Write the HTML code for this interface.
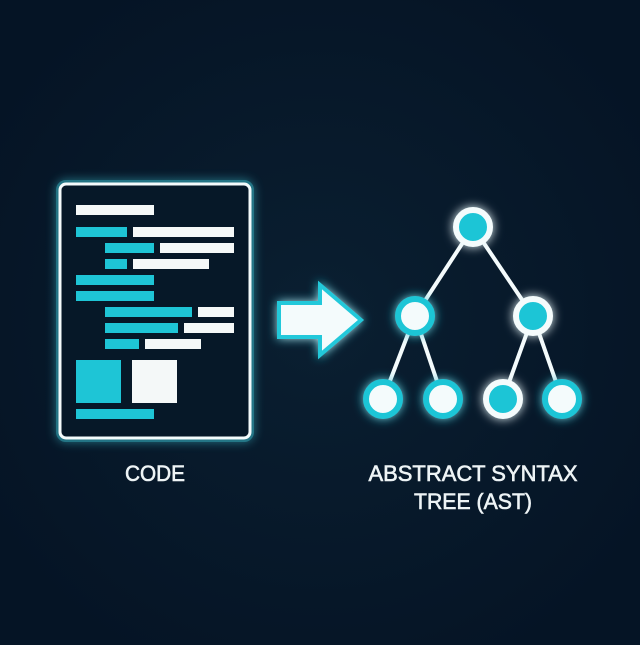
<!DOCTYPE html>
<html><head><style>
body{margin:0;width:640px;height:640px;background:#061628;overflow:hidden;font-family:"Liberation Sans",sans-serif}
</style></head><body>
<svg width="640" height="640" viewBox="0 0 640 640">
<defs>
<filter id="g" x="-30%" y="-30%" width="160%" height="160%"><feGaussianBlur stdDeviation="5" result="b"/><feMerge><feMergeNode in="b"/><feMergeNode in="SourceGraphic"/></feMerge></filter>
<radialGradient id="bg" cx="50%" cy="50%" r="60%"><stop offset="0" stop-color="#0a1f31"/><stop offset="1" stop-color="#051425"/></radialGradient>
</defs>
<rect width="640" height="640" fill="url(#bg)"/>
<rect x="60" y="184" width="190" height="254" rx="6" fill="#061828" stroke="#3fd0e0" stroke-width="8" opacity="0.5" filter="url(#g)"/>
<rect x="60" y="184" width="190" height="254" rx="6" fill="#061828" stroke="#f4fbfc" stroke-width="3"/>
<g fill="#f4f8f8">
<rect x="76" y="205" width="78" height="10"/>
<rect x="133" y="227" width="101" height="10"/>
<rect x="160" y="243" width="74" height="10"/>
<rect x="133" y="259" width="76" height="10"/>
<rect x="198" y="307" width="36" height="10"/>
<rect x="184" y="323" width="50" height="10"/>
<rect x="145" y="339" width="56" height="10"/>
<rect x="132" y="360" width="45" height="43"/>
</g>
<g fill="#1ec5d6">
<rect x="76" y="227" width="51" height="10"/>
<rect x="105" y="243" width="49" height="10"/>
<rect x="105" y="259" width="22" height="10"/>
<rect x="76" y="275" width="78" height="10"/>
<rect x="76" y="291" width="78" height="10"/>
<rect x="105" y="307" width="87" height="10"/>
<rect x="105" y="323" width="73" height="10"/>
<rect x="105" y="339" width="34" height="10"/>
<rect x="76" y="360" width="45" height="43"/>
<rect x="76" y="409" width="78" height="10"/>
</g>
<polygon points="279,303 320,303 320,285 361,320 320,355 320,337 279,337" fill="#f4fbfc" stroke="#22c8da" stroke-width="4" stroke-linejoin="miter" filter="url(#g)"/>
<g stroke="#f4fbfc" stroke-width="4">
<line x1="473" y1="227" x2="415" y2="316"/><line x1="473" y1="227" x2="533" y2="316"/>
<line x1="415" y1="316" x2="383" y2="399"/><line x1="415" y1="316" x2="443" y2="399"/>
<line x1="533" y1="316" x2="503" y2="399"/><line x1="533" y1="316" x2="562" y2="399"/>
</g>
<g stroke-width="6" filter="url(#g)">
<circle cx="473" cy="227" r="17" fill="#1ec5d6" stroke="#f4fbfc"/>
<circle cx="415" cy="316" r="17" fill="#f4fbfc" stroke="#1ec5d6"/>
<circle cx="533" cy="316" r="17" fill="#1ec5d6" stroke="#f4fbfc"/>
<circle cx="383" cy="399" r="17" fill="#f4fbfc" stroke="#1ec5d6"/>
<circle cx="443" cy="399" r="17" fill="#f4fbfc" stroke="#1ec5d6"/>
<circle cx="503" cy="399" r="17" fill="#1ec5d6" stroke="#f4fbfc"/>
<circle cx="562" cy="399" r="17" fill="#f4fbfc" stroke="#1ec5d6"/>
</g>
<g fill="#eef4f6" stroke="#eef4f6" stroke-width="0.6" font-size="22" text-anchor="middle">
<text x="155" y="481" textLength="60" lengthAdjust="spacingAndGlyphs">CODE</text>
<text x="473" y="481" textLength="209" lengthAdjust="spacingAndGlyphs">ABSTRACT SYNTAX</text>
<text x="473" y="509" textLength="118" lengthAdjust="spacingAndGlyphs">TREE (AST)</text>
</g>
</svg>
</body></html>
